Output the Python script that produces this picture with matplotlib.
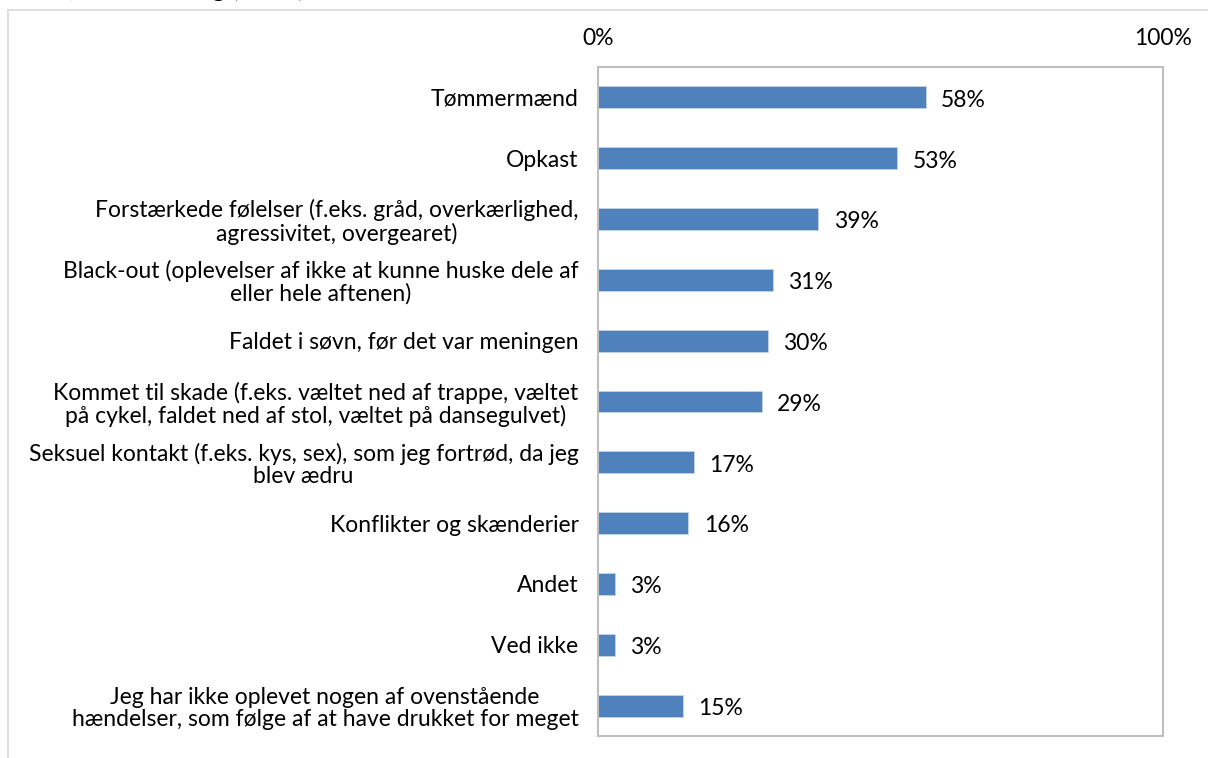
import matplotlib.pyplot as plt
import matplotlib.patches as mpatches

categories = [
    "Tømmermænd",
    "Opkast",
    "Forstærkede følelser (f.eks. gråd, overkærlighed,\nagressivitet, overgearet)",
    "Black-out (oplevelser af ikke at kunne huske dele af\neller hele aftenen)",
    "Faldet i søvn, før det var meningen",
    "Kommet til skade (f.eks. væltet ned af trappe, væltet\npå cykel, faldet ned af stol, væltet på dansegulvet)",
    "Seksuel kontakt (f.eks. kys, sex), som jeg fortrød, da jeg\nblev ædru",
    "Konflikter og skænderier",
    "Andet",
    "Ved ikke",
    "Jeg har ikke oplevet nogen af ovenstående\nhændelser, som følge af at have drukket for meget",
]
values = [58, 53, 39, 31, 30, 29, 17, 16, 3, 3, 15]
xticks = [0, 100]
xticklabels = ["0%", "100%"]

plt.rcParams['font.family'] = ['Lato', 'DejaVu Sans']

fig = plt.figure(figsize=(12.08, 7.58), dpi=100)
W, H = 1208, 758

# outer chart frame (partly cut off at right/bottom)
fig.patches.append(mpatches.Rectangle((8 / W, -0.1), 1.2, (758 - 10) / H + 0.1,
                                      transform=fig.transFigure, fill=False,
                                      edgecolor="#D9D9D9", linewidth=1.2))
# title, cut off at the top edge like in the source
fig.text(305 / W, 1.0 + 3 / H, "Hændelser ved beruselse, svarfordeling (andel)",
         ha="right", va="baseline", fontsize=18, color="#000000")

ax = fig.add_axes([598 / W, 1 - 736 / H, (1163 - 598) / W, (736 - 67) / H])
y = list(range(len(categories)))
ax.barh(y, values, height=0.36, color="#4F81BD", edgecolor="#C5D3E8", linewidth=0.6)
ax.set_xlim(0, 100)
ax.set_ylim(len(categories) - 0.5, -0.5)

ax.xaxis.tick_top()
ax.set_xticks(xticks)
ax.set_xticklabels(xticklabels, fontsize=16.5)
ax.tick_params(axis="x", length=0, pad=13)
ax.set_yticks(y)
ax.set_yticklabels(categories, fontsize=16.5, linespacing=1.08)
ax.tick_params(axis="y", length=0, pad=14)
for lab in ax.get_yticklabels():
    lab.set_horizontalalignment("right")
    lab.set_multialignment("center")

for s in ax.spines.values():
    s.set_color("#BFBFBF")
    s.set_linewidth(1.5)

for yi, v in zip(y, values):
    ax.annotate(f"{v}%", (v, yi), xytext=(11, -2), textcoords="offset points",
                ha="left", va="center", fontsize=16.5)

fig.savefig("out.png", dpi=100)
